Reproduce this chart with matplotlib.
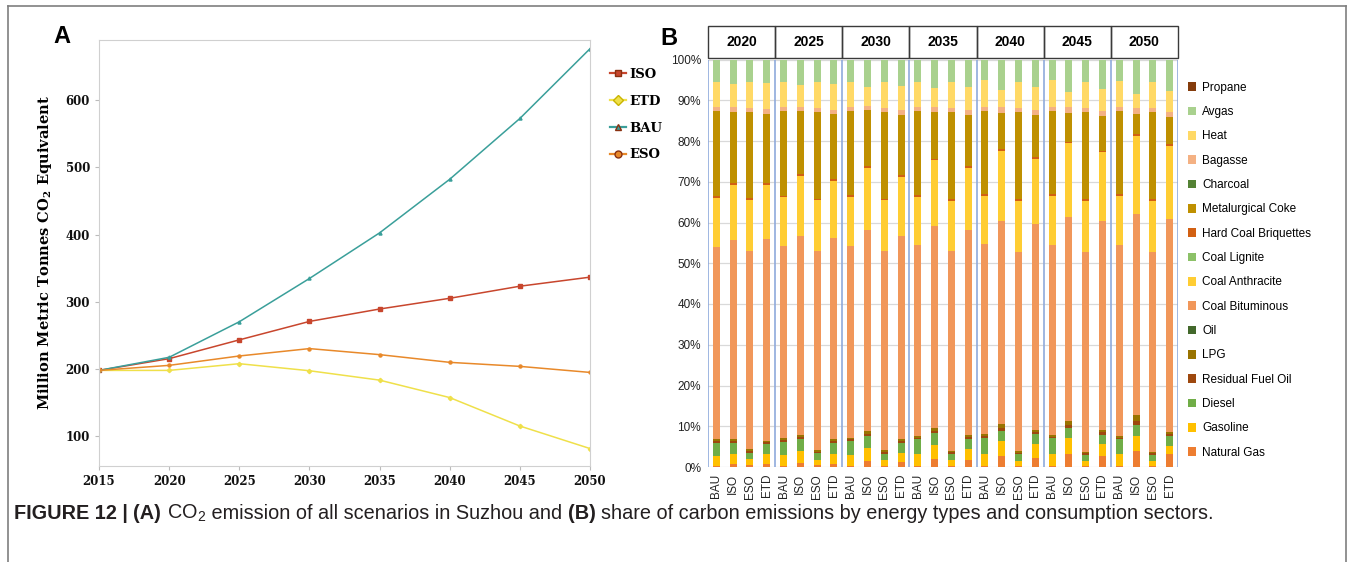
import matplotlib
matplotlib.use("Agg")
import matplotlib.pyplot as plt
from matplotlib.patches import Rectangle, Patch
from matplotlib.lines import Line2D

# ---- panel A: CO2 emission by scenario ----
years_a = [2015, 2020, 2025, 2030, 2035, 2040, 2045, 2050]
iso = [197.5, 215, 243, 270.5, 289, 305, 323, 336.5]
etd = [197.5, 197.5, 207.5, 197, 183, 157, 114.6, 81]
bau = [197.5, 217, 270, 334.5, 402.5, 482.4, 573, 677]
eso = [197.5, 205, 219, 230, 221, 209.5, 203.5, 194.5]

# ---- panel B: share by energy type (bars: BAU, ISO, ESO, ETD for each year) ----
years_b = ["2020", "2025", "2030", "2035", "2040", "2045", "2050"]
scenarios = ["BAU", "ISO", "ESO", "ETD"]

natural_gas = [0.3, 0.8, 0.4, 0.8, 0.3, 1.1, 0.4, 0.8, 0.3, 1.5, 0.3, 1.2, 0.3, 1.9,
               0.3, 1.76, 0.3, 2.6, 0.3, 2.2, 0.3, 3.24, 0.3, 2.67, 0.3, 3.9, 0.3, 3.24]
gasoline = [2.5, 2.45, 1.5, 2.3, 2.6, 2.9, 1.35, 2.5, 2.75, 3.2, 1.4, 2.3, 2.8, 3.5,
            1.45, 2.55, 2.95, 3.75, 1.2, 3.5, 2.95, 3.76, 1.2, 3.0, 2.95, 3.75, 1.15, 1.95]
diesel = [3.0, 2.6, 1.6, 2.6, 3.3, 2.85, 1.7, 2.5, 3.3, 2.8, 1.6, 2.45, 3.7, 2.9,
          1.5, 2.45, 3.85, 2.45, 1.7, 2.45, 3.85, 2.45, 1.55, 2.2, 3.5, 2.55, 1.55, 2.3]
residual_fuel_oil = [0.5, 0.5, 0.45, 0.4, 0.45, 0.5, 0.35, 0.5, 0.45, 0.6, 0.4, 0.4, 0.35, 0.65,
                     0.35, 0.6, 0.5, 0.8, 0.35, 0.5, 0.35, 0.75, 0.4, 0.6, 0.4, 1.0, 0.35, 0.6]
lpg = [0.5, 0.5, 0.45, 0.4, 0.45, 0.5, 0.3, 0.5, 0.4, 0.7, 0.4, 0.4, 0.35, 0.65,
       0.3, 0.6, 0.5, 1.0, 0.35, 0.5, 0.35, 1.2, 0.35, 0.6, 0.4, 1.5, 0.3, 0.6]
oil = [0, 0, 0, 0, 0, 0, 0, 0, 0, 0, 0, 0, 0, 0,
       0, 0, 0, 0, 0, 0, 0, 0, 0, 0, 0, 0, 0, 0]
coal_bituminous = [47.2, 48.75, 48.6, 49.4, 47.2, 48.85, 48.9, 49.5, 47.1, 49.3, 48.9, 49.95, 46.9, 49.5,
                   49.1, 50.24, 46.6, 49.8, 48.9, 50.55, 46.7, 49.85, 49.0, 51.33, 46.95, 49.4, 49.15, 52.1]
coal_anthracite = [12.1, 13.7, 12.4, 13.4, 11.9, 14.6, 12.4, 13.9, 11.9, 15.2, 12.4, 14.5, 11.9, 16.2,
                   12.3, 15.2, 11.9, 17.2, 12.4, 15.9, 12.1, 18.15, 12.5, 16.8, 12.1, 19.1, 12.4, 17.9]
coal_lignite = [0, 0, 0, 0, 0, 0, 0, 0, 0, 0, 0, 0, 0, 0,
                0, 0, 0, 0, 0, 0, 0, 0, 0, 0, 0, 0, 0, 0]
hard_coal_briquettes = [0.5, 0.5, 0.5, 0.5, 0.4, 0.5, 0.3, 0.4, 0.5, 0.6, 0.3, 0.4, 0.4, 0.4,
                        0.45, 0.45, 0.4, 0.4, 0.5, 0.4, 0.4, 0.4, 0.4, 0.4, 0.4, 0.5, 0.5, 0.5]
metallurgical_coke = [20.8, 17.4, 21.3, 16.9, 20.8, 15.6, 21.5, 16.1, 20.7, 13.6, 21.5, 14.9, 20.7, 11.5,
                      21.25, 12.65, 20.4, 8.9, 21.3, 10.3, 20.4, 7.1, 21.3, 8.5, 20.4, 4.9, 21.3, 6.7]
charcoal = [0, 0, 0, 0, 0, 0, 0, 0, 0, 0, 0, 0, 0, 0,
            0, 0, 0, 0, 0, 0, 0, 0, 0, 0, 0, 0, 0, 0]
bagasse = [0.9, 1.1, 0.8, 1.1, 0.9, 0.9, 0.8, 0.9, 0.9, 1.2, 0.8, 1.1, 0.9, 1.2,
           1.0, 1.1, 0.9, 1.4, 1.0, 1.2, 0.9, 1.4, 1.0, 1.3, 0.9, 1.4, 1.0, 1.3]
heat = [6.25, 5.7, 6.55, 6.4, 6.25, 5.4, 6.55, 6.4, 6.25, 4.5, 6.55, 6.0, 6.25, 4.5,
        6.55, 5.7, 6.6, 4.2, 6.4, 5.7, 6.6, 3.8, 6.4, 5.3, 6.4, 3.5, 6.4, 5.1]
avgas = [5.45, 6.0, 5.45, 5.8, 5.45, 6.3, 5.45, 6.0, 5.45, 6.8, 5.45, 6.4, 5.45, 7.1,
         5.45, 6.7, 5.1, 7.5, 5.6, 6.8, 5.1, 7.9, 5.6, 7.3, 5.3, 8.5, 5.6, 7.7]
propane = [0, 0, 0, 0, 0, 0, 0, 0, 0, 0, 0, 0, 0, 0,
           0, 0, 0, 0, 0, 0, 0, 0, 0, 0, 0, 0, 0, 0]

# bottom -> top stacking order
series = [
    ("Natural Gas", natural_gas, "#ED7D31"),
    ("Gasoline", gasoline, "#FFC000"),
    ("Diesel", diesel, "#70AD47"),
    ("Residual Fuel Oil", residual_fuel_oil, "#9E480E"),
    ("LPG", lpg, "#997300"),
    ("Oil", oil, "#43682B"),
    ("Coal Bituminous", coal_bituminous, "#F1975A"),
    ("Coal Anthracite", coal_anthracite, "#FFCD33"),
    ("Coal Lignite", coal_lignite, "#8CC168"),
    ("Hard Coal Briquettes", hard_coal_briquettes, "#D26012"),
    ("Metalurgical Coke", metallurgical_coke, "#BF9000"),
    ("Charcoal", charcoal, "#548235"),
    ("Bagasse", bagasse, "#F4B183"),
    ("Heat", heat, "#FFD966"),
    ("Avgas", avgas, "#A9D18E"),
    ("Propane", propane, "#843C0C"),
]

W, H = 1354, 562
fig = plt.figure(figsize=(W / 100, H / 100), dpi=100)
serif = "DejaVu Serif"
sans_list = ["Liberation Sans", "DejaVu Sans"]

# ---------- panel A ----------
axa = fig.add_axes([99 / W, 1 - 466 / H, (590 - 99) / W, (466 - 40) / H])
line_specs = [
    ("ISO", iso, "#C8462D", "s"),
    ("ETD", etd, "#EFE04A", "D"),
    ("BAU", bau, "#3A9F9A", "^"),
    ("ESO", eso, "#E8892A", "o"),
]
handles_a = []
for name, vals, col, mk in line_specs:
    axa.plot(years_a, vals, color=col, lw=1.1, marker=mk, ms=2.2)
    handles_a.append(Line2D([], [], color=col, lw=1.6, marker=mk, ms=5,
                            markerfacecolor=col, markeredgecolor="#8a3010" if name != "ETD" else "#c9b400"))
axa.set_xlim(2015, 2050)
axa.set_ylim(55, 690)
axa.set_xticks(years_a)
axa.set_yticks([100, 200, 300, 400, 500, 600])
for sp in axa.spines.values():
    sp.set_color("#d0d0d0")
axa.tick_params(colors="#bbbbbb", length=3, labelcolor="#111111")
for lab in axa.get_xticklabels() + axa.get_yticklabels():
    lab.set_fontfamily(serif)
    lab.set_fontweight("bold")
    lab.set_fontsize(8.5)
axa.set_ylabel("Million Metric Tonnes CO$_{\\mathregular{2}}$ Equivalent", fontfamily=serif,
               fontweight="bold", fontsize=10.5, labelpad=8)
fig.legend(handles_a, [s[0] for s in line_specs], loc="upper left",
           bbox_to_anchor=(598 / W, 1 - 56 / H), frameon=False, handlelength=1.2,
           handletextpad=0.3, labelspacing=1.05,
           prop={"family": serif, "weight": "bold", "size": 9.5})
fig.text(53 / W, 1 - 43 / H, "A", fontsize=17, fontweight="bold", family=sans_list)

# ---------- panel B ----------
axb = fig.add_axes([708 / W, 1 - 467 / H, (1178 - 708) / W, (467 - 59.5) / H])
n_bars = len(years_b) * len(scenarios)
xs = list(range(n_bars))
bottom = [0.0] * n_bars
for name, vals, col in series:
    axb.bar(xs, vals, width=0.42, bottom=bottom, color=col, linewidth=0, zorder=3)
    bottom = [b + v for b, v in zip(bottom, vals)]
axb.set_xlim(-0.5, n_bars - 0.5)
axb.set_ylim(0, 100)
axb.set_yticks(range(0, 101, 10))
axb.set_yticklabels([f"{v}%" for v in range(0, 101, 10)])
axb.set_xticks(xs)
axb.set_xticklabels(scenarios * len(years_b), rotation=90)
axb.tick_params(length=0, labelsize=8.5, labelcolor="#222222", pad=5)
for lab in axb.get_xticklabels() + axb.get_yticklabels():
    lab.set_fontfamily(sans_list)
for sp in axb.spines.values():
    sp.set_visible(False)
axb.grid(axis="y", color="#d9d9d9", lw=0.9, zorder=0)
for g in range(len(years_b) + 1):
    axb.axvline(g * 4 - 0.5, ymin=0, ymax=1, color="#8FAADC", lw=1.2, zorder=2)
for g, yr in enumerate(years_b):
    axb.add_patch(Rectangle((g * 4 - 0.5, 100.4), 4, 7.9, fill=False, edgecolor="#3a3a3a",
                            lw=1.0, clip_on=False, zorder=5))
    axb.text(g * 4 + 1.5, 104.3, yr, ha="center", va="center", fontsize=10,
             fontweight="bold", family=sans_list, clip_on=False)
handles_b = [Patch(facecolor=col, edgecolor="none") for _, _, col in series][::-1]
labels_b = [name for name, _, _ in series][::-1]
fig.legend(handles_b, labels_b, loc="upper left", bbox_to_anchor=(1177 / W, 1 - 71 / H),
           frameon=False, handlelength=0.75, handleheight=0.75, handletextpad=0.5,
           labelspacing=1.045, prop={"family": sans_list, "size": 8.5})
fig.text(660 / W, 1 - 45 / H, "B", fontsize=17, fontweight="bold", family=sans_list)

# ---------- frame ----------
frame_col = "#7f7f7f"
fig.add_artist(Line2D([8 / W, 1346 / W], [1 - 6 / H, 1 - 6 / H], transform=fig.transFigure,
                      color=frame_col, lw=1.2))
fig.add_artist(Line2D([8 / W, 8 / W], [0, 1 - 6 / H], transform=fig.transFigure,
                      color=frame_col, lw=1.2))
fig.add_artist(Line2D([1346 / W, 1346 / W], [0, 1 - 6 / H], transform=fig.transFigure,
                      color=frame_col, lw=1.2))

# ---------- caption ----------
cap_font = ["Liberation Sans", "DejaVu Sans"]
pieces = [
    ("FIGURE 12 | ", "bold"),
    ("(A) ", "bold"),
    ("CO$_{\\mathregular{2}}$", "normal"),
    (" emission of all scenarios in Suzhou and ", "normal"),
    ("(B) ", "bold"),
    ("share of carbon emissions by energy types and consumption sectors.", "normal"),
]
fig.canvas.draw()
renderer = fig.canvas.get_renderer()
cx = 14 / W
for text, weight in pieces:
    t = fig.text(cx, 1 - 519 / H, text, fontsize=14.3, fontweight=weight, family=cap_font,
                 color="#231f20", va="baseline")
    cx += t.get_window_extent(renderer).width / fig.bbox.width

fig.savefig("out.png", dpi=100)
